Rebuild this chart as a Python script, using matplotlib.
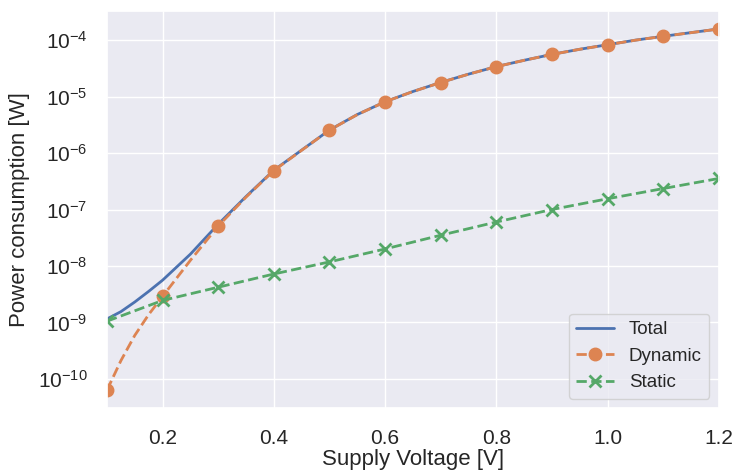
import matplotlib
matplotlib.use("Agg")
import matplotlib.pyplot as plt
import seaborn as sns

# Voltage sampling of the smooth curves (markers placed at the 0.1 V multiples)
voltage = [0.1, 0.125, 0.15, 0.175, 0.2, 0.25, 0.3, 0.35, 0.4, 0.45, 0.5, 0.55,
           0.6, 0.65, 0.7, 0.75, 0.8, 0.85, 0.9, 0.95, 1.0, 1.05, 1.1, 1.15, 1.2]
dynamic = [6.3e-11, 2.1e-10, 5.9e-10, 1.38e-9, 2.9e-9, 1.26e-8, 5.1e-8, 1.66e-7,
           4.9e-7, 1.12e-6, 2.55e-6, 4.8e-6, 8.1e-6, 1.23e-5, 1.78e-5, 2.5e-5,
           3.4e-5, 4.4e-5, 5.6e-5, 6.9e-5, 8.3e-5, 1.0e-4, 1.17e-4, 1.36e-4, 1.58e-4]
total = [1.15e-9, 1.55e-9, 2.3e-9, 3.55e-9, 5.6e-9, 1.62e-8, 5.5e-8, 1.7e-7,
         4.97e-7, 1.13e-6, 2.56e-6, 4.82e-6, 8.12e-6, 1.233e-5, 1.783e-5, 2.503e-5,
         3.405e-5, 4.405e-5, 5.61e-5, 6.91e-5, 8.315e-5, 1.002e-4, 1.172e-4, 1.362e-4, 1.583e-4]

static_voltage = [0.1, 0.2, 0.3, 0.4, 0.5, 0.6, 0.7, 0.8, 0.9, 1.0, 1.1, 1.2]
static = [1.05e-9, 2.45e-9, 4.2e-9, 7.2e-9, 1.18e-8, 2.0e-8, 3.5e-8, 6.0e-8,
          1.0e-7, 1.55e-7, 2.35e-7, 3.55e-7]

marker_idx = [i for i, v in enumerate(voltage) if abs(round(v * 10) - v * 10) < 1e-9]

sns.set_theme(style="darkgrid")
plt.rcParams['font.family'] = ['Liberation Sans', 'DejaVu Sans']
plt.rcParams['mathtext.default'] = 'regular'

fig = plt.figure(figsize=(7.38, 4.73), dpi=100)
ax = fig.add_subplot(111)
fig.subplots_adjust(left=0.145, right=0.974, top=0.977, bottom=0.137)

pal = sns.color_palette()
ax.plot(voltage, total, '-', color=pal[0], lw=2, label='Total')
ax.plot(voltage, dynamic, '--', color=pal[1], lw=2, marker='o', ms=9,
        markevery=marker_idx, label='Dynamic')
ax.plot(static_voltage, static, '--', color=pal[2], lw=2, marker='x', ms=9,
        mew=2, label='Static')

ax.set_yscale('log')
ax.set_xlim(0.1, 1.2)
ax.set_xlabel('Supply Voltage [V]', fontsize=16, labelpad=1)
ax.set_ylabel('Power consumption [W]', fontsize=16, labelpad=6)
ax.tick_params(axis='both', labelsize=15)
ax.tick_params(axis='y', pad=8)
ax.tick_params(axis='x', pad=9)
ax.legend(loc='lower right', fontsize=13.5)

fig.savefig('out.png', dpi=100)
